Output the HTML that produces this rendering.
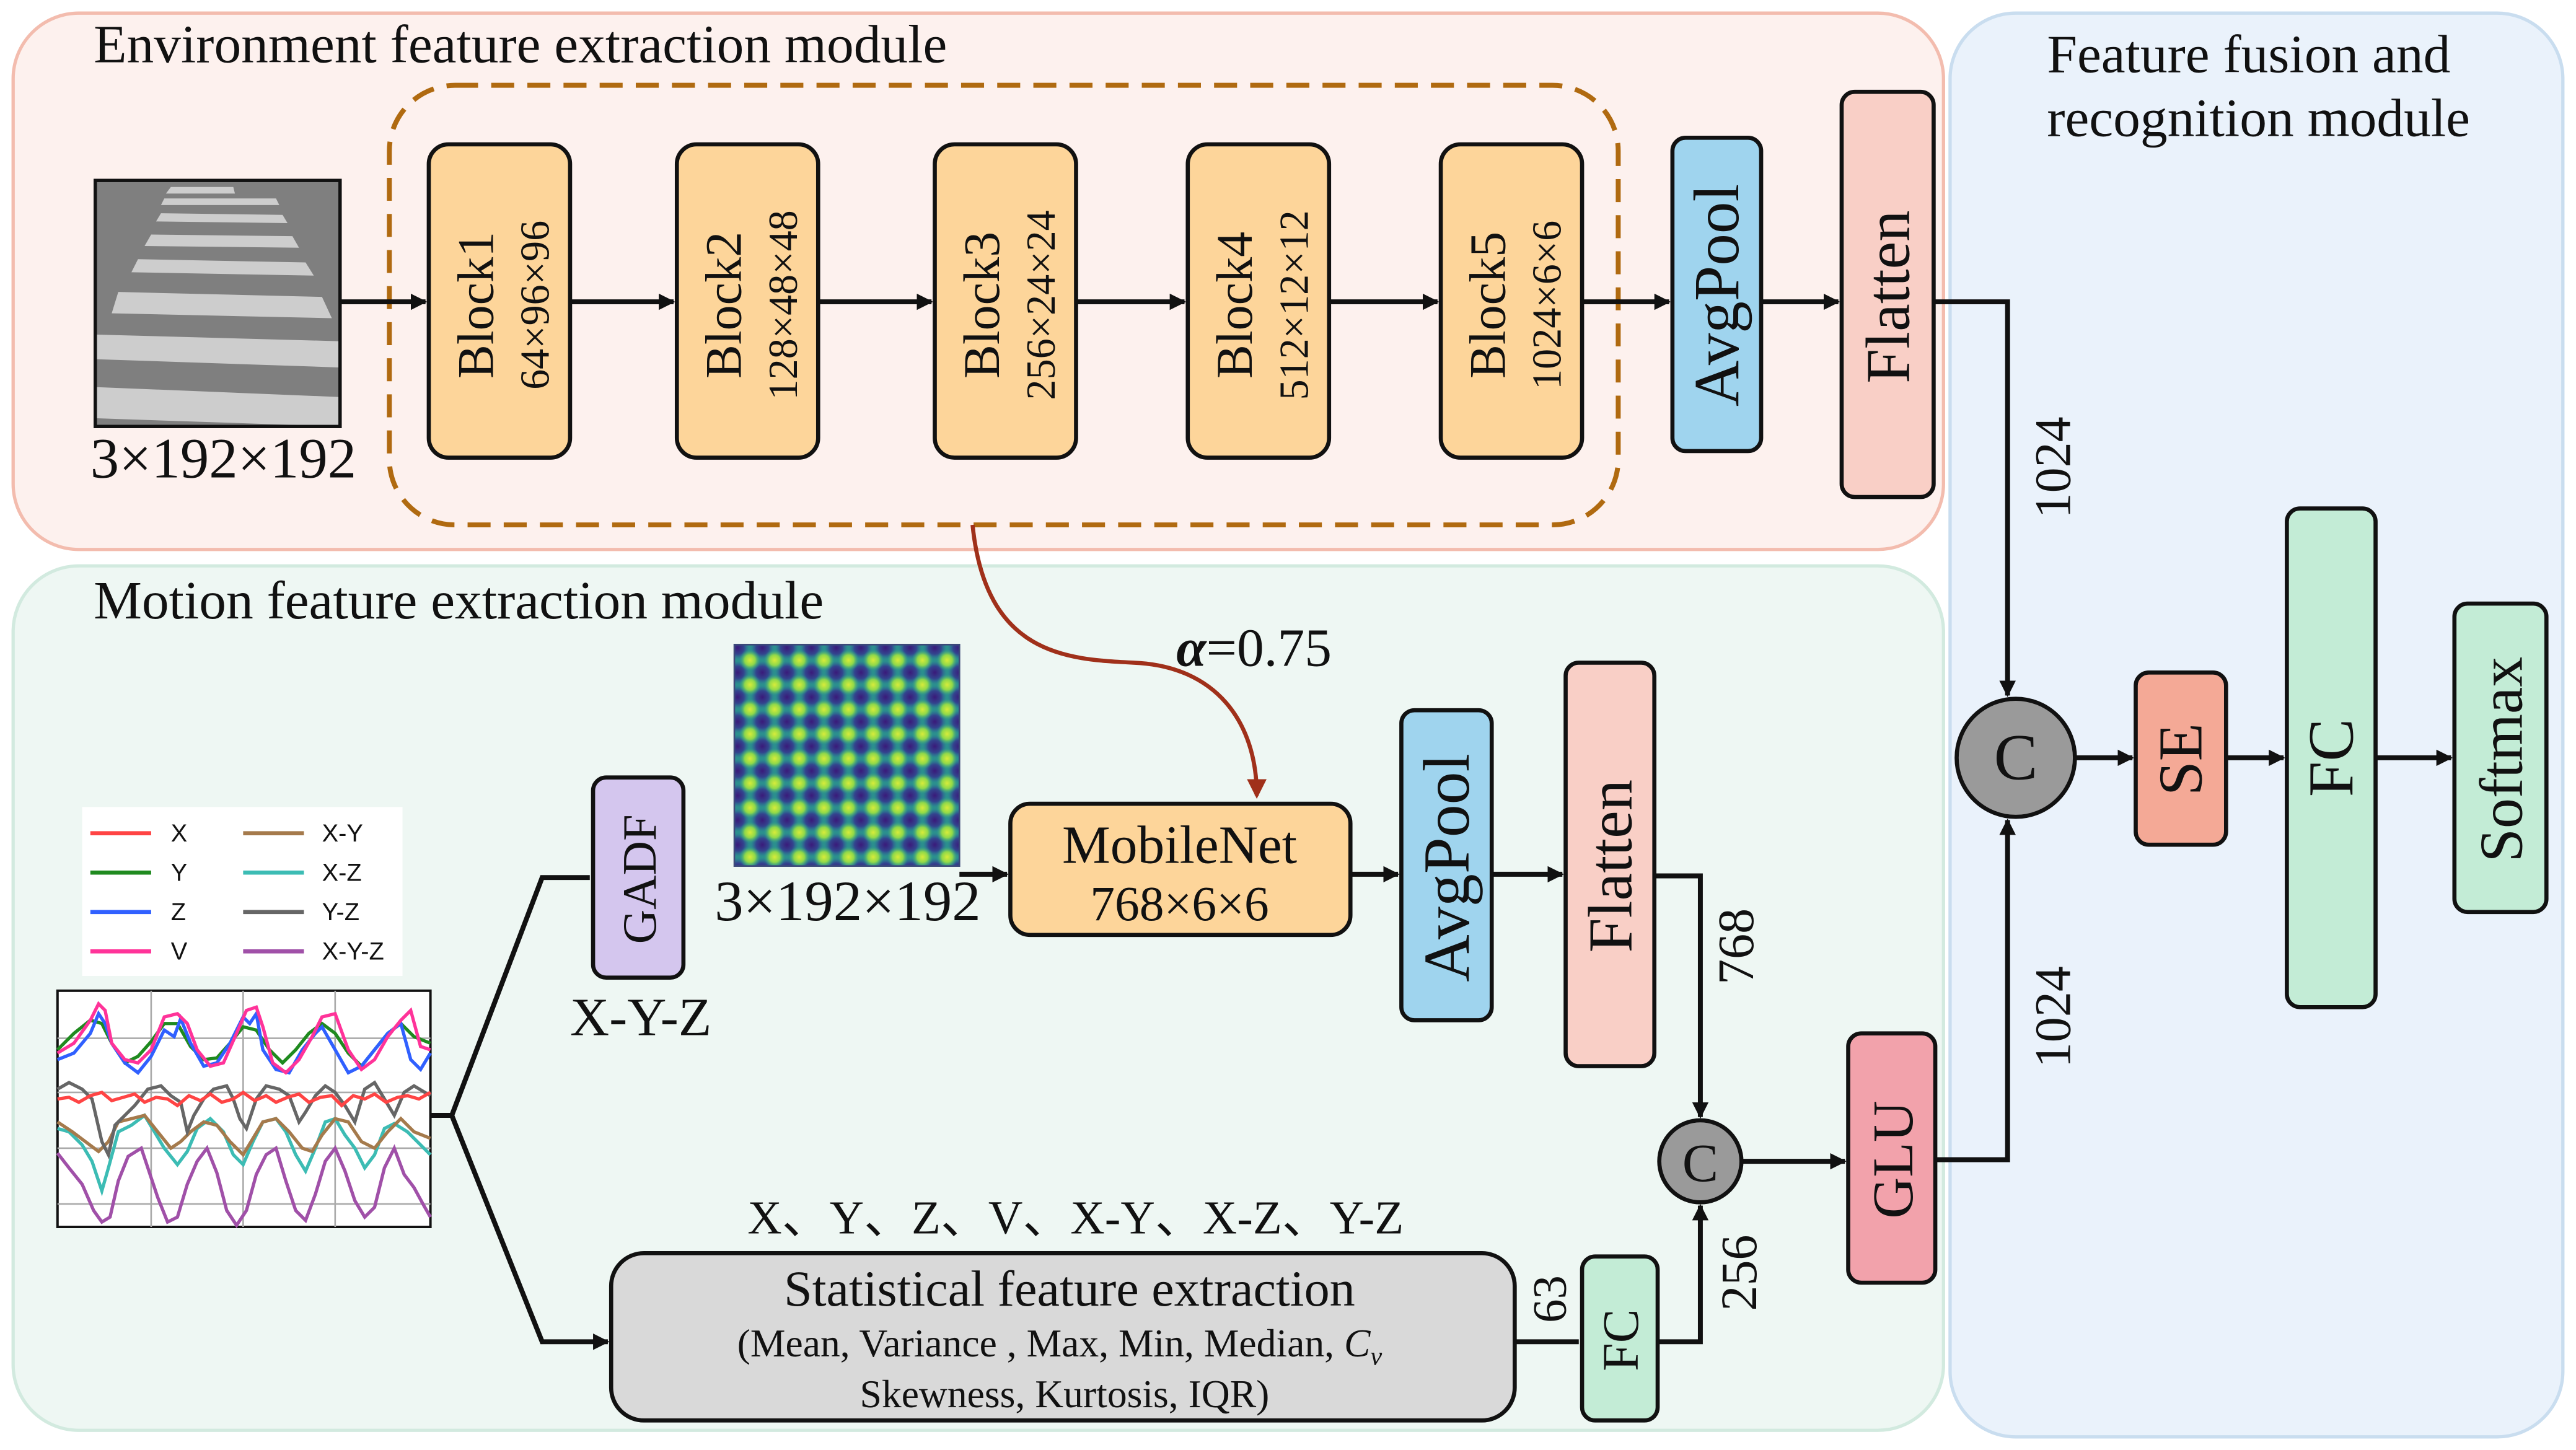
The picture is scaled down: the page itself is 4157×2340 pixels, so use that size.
<!DOCTYPE html>
<html><head><meta charset="utf-8">
<style>
html,body{margin:0;padding:0;background:#fff;}
svg{display:block;}
text{font-family:"Liberation Serif",serif;fill:#111;}
.s{font-family:"Liberation Sans",sans-serif;}
</style></head>
<body>
<svg width="4157" height="2340" viewBox="0 0 1568 884" preserveAspectRatio="none" xmlns="http://www.w3.org/2000/svg">
<defs>
<marker id="ar" markerWidth="10" markerHeight="10" refX="9" refY="5" orient="auto" markerUnits="userSpaceOnUse"><path d="M0,0 L10,5 L0,10 z" fill="#111"/></marker>
<marker id="ar2" markerWidth="12" markerHeight="12" refX="10" refY="6" orient="auto" markerUnits="userSpaceOnUse"><path d="M0,0 L12,6 L0,12 z" fill="#a0301a"/></marker>
<radialGradient id="yb"><stop offset="0" stop-color="#d8ec3a"/><stop offset="0.5" stop-color="#8fd84a"/><stop offset="1" stop-color="#2fa08a" stop-opacity="0"/></radialGradient>
<radialGradient id="db"><stop offset="0" stop-color="#3a1a7a"/><stop offset="0.55" stop-color="#33448e"/><stop offset="1" stop-color="#2c6a96" stop-opacity="0"/></radialGradient>
<pattern id="hm" x="449" y="395" width="15" height="15" patternUnits="userSpaceOnUse">
<rect width="15" height="15" fill="#2b8f8e"/>
<circle cx="0" cy="0" r="7" fill="url(#db)"/><circle cx="15" cy="0" r="7" fill="url(#db)"/>
<circle cx="0" cy="15" r="7" fill="url(#db)"/><circle cx="15" cy="15" r="7" fill="url(#db)"/>
<circle cx="7.5" cy="7.5" r="6.5" fill="url(#yb)"/>
</pattern>
</defs>

<!-- module backgrounds -->
<rect x="8" y="8" width="1175" height="327" rx="40" fill="#fdf1ee" stroke="#f3bcae" stroke-width="2"/>
<rect x="8" y="345" width="1175" height="527" rx="40" fill="#eef7f3" stroke="#d2eadf" stroke-width="2"/>
<rect x="1187" y="8" width="373" height="868" rx="40" fill="#eaf2fb" stroke="#c9ddef" stroke-width="2"/>

<text x="57" y="38" font-size="33">Environment feature extraction module</text>
<text x="57" y="377" font-size="33">Motion feature extraction module</text>
<text x="1246" y="44" font-size="33">Feature fusion and</text>
<text x="1246" y="83" font-size="33">recognition module</text>

<!-- crosswalk image -->
<rect x="58" y="110" width="149" height="150" fill="#7f7f7f" stroke="#111" stroke-width="2"/>
<g fill="#cdcdcd">
<polygon points="190,114 228,114 229,118 187,118" transform="translate(-86,0)"/>
<polygon points="100,121 168,121 170,125 98,125"/>
<polygon points="98,130 172,131 175,136 95,135"/>
<polygon points="92,143 178,144 182,151 88,150"/>
<polygon points="84,158 186,160 191,168 80,166"/>
<polygon points="72,178 196,181 202,194 68,191"/>
<polygon points="59,204 206,208 206,224 59,219"/>
<polygon points="59,236 206,242 206,260 59,255"/>
</g>
<rect x="58" y="110" width="149" height="150" fill="none" stroke="#111" stroke-width="2"/>
<text x="55" y="291" font-size="35">3×192×192</text>

<rect x="237" y="52" width="748" height="268" rx="40" fill="none" stroke="#b06a10" stroke-width="3" stroke-dasharray="14,8"/>

<g stroke="#111" stroke-width="3" fill="none">
<line x1="207" y1="184" x2="259" y2="184" marker-end="url(#ar)"/>
<line x1="347" y1="184" x2="410" y2="184" marker-end="url(#ar)"/>
<line x1="498" y1="184" x2="567" y2="184" marker-end="url(#ar)"/>
<line x1="655" y1="184" x2="721" y2="184" marker-end="url(#ar)"/>
<line x1="809" y1="184" x2="875" y2="184" marker-end="url(#ar)"/>
<line x1="963" y1="184" x2="1016" y2="184" marker-end="url(#ar)"/>
<line x1="1072" y1="184" x2="1119" y2="184" marker-end="url(#ar)"/>
<polyline points="1177,184 1222,184 1222,424" marker-end="url(#ar)"/>
<line x1="1263" y1="462" x2="1298" y2="462" marker-end="url(#ar)"/>
<line x1="1355" y1="462" x2="1390" y2="462" marker-end="url(#ar)"/>
<line x1="1446" y1="462" x2="1492" y2="462" marker-end="url(#ar)"/>
<polyline points="262,680 275,680 330,535 359,535"/>
<polyline points="275,680 330,818 370,818" marker-end="url(#ar)"/>
<line x1="584" y1="533" x2="613" y2="533" marker-end="url(#ar)"/>
<line x1="822" y1="533" x2="851" y2="533" marker-end="url(#ar)"/>
<line x1="908" y1="533" x2="951" y2="533" marker-end="url(#ar)"/>
<polyline points="1007,534 1035,534 1035,681" marker-end="url(#ar)"/>
<line x1="922" y1="818" x2="961" y2="818"/>
<polyline points="1009,818 1035,818 1035,735" marker-end="url(#ar)"/>
<line x1="1060" y1="708" x2="1123" y2="708" marker-end="url(#ar)"/>
<polyline points="1178,707 1222,707 1222,500" marker-end="url(#ar)"/>
</g>

<!-- blocks -->
<g stroke="#111" stroke-width="2.5" fill="#fdd59a">
<rect x="261" y="88" width="86" height="191" rx="12"/>
<rect x="412" y="88" width="86" height="191" rx="12"/>
<rect x="569" y="88" width="86" height="191" rx="12"/>
<rect x="723" y="88" width="86" height="191" rx="12"/>
<rect x="877" y="88" width="86" height="191" rx="12"/>
<rect x="615" y="490" width="207" height="80" rx="12"/>
</g>
<g font-size="31" text-anchor="middle">
<text transform="translate(300,186) rotate(-90)">Block1</text>
<text transform="translate(451,186) rotate(-90)">Block2</text>
<text transform="translate(608,186) rotate(-90)">Block3</text>
<text transform="translate(762,186) rotate(-90)">Block4</text>
<text transform="translate(916,186) rotate(-90)">Block5</text>
</g>
<g font-size="25" text-anchor="middle">
<text transform="translate(334,186) rotate(-90)">64×96×96</text>
<text transform="translate(485,186) rotate(-90)">128×48×48</text>
<text transform="translate(642,186) rotate(-90)">256×24×24</text>
<text transform="translate(796,186) rotate(-90)">512×12×12</text>
<text transform="translate(950,186) rotate(-90)">1024×6×6</text>
</g>
<text x="718" y="526" font-size="33" text-anchor="middle">MobileNet</text>
<text x="718" y="561" font-size="30" text-anchor="middle">768×6×6</text>

<g stroke="#111" stroke-width="2.5">
<rect x="1018" y="84" width="54" height="191" rx="8" fill="#9fd4ee"/>
<rect x="1121" y="56" width="56" height="247" rx="8" fill="#f9cfc6"/>
<rect x="853" y="433" width="55" height="189" rx="8" fill="#9fd4ee"/>
<rect x="953" y="404" width="54" height="246" rx="8" fill="#f9cfc6"/>
<rect x="361" y="474" width="55" height="122" rx="8" fill="#d4c6ee"/>
<rect x="963" y="766" width="46" height="100" rx="8" fill="#c3ecd6"/>
<rect x="1125" y="630" width="53" height="152" rx="8" fill="#f2a2ab"/>
<rect x="1300" y="410" width="55" height="105" rx="8" fill="#f4a996"/>
<rect x="1392" y="310" width="54" height="304" rx="8" fill="#c3ecd6"/>
<rect x="1494" y="368" width="56" height="188" rx="8" fill="#c3ecd6"/>
<rect x="372" y="764" width="550" height="102" rx="20" fill="#d9d9d9"/>
<circle cx="1227" cy="462" r="36" fill="#9a9a9a"/>
<circle cx="1035" cy="708" r="25" fill="#9a9a9a"/>
</g>
<g text-anchor="middle">
<text transform="translate(1058,180) rotate(-90)" font-size="39">AvgPool</text>
<text transform="translate(1162,181) rotate(-90)" font-size="38">Flatten</text>
<text transform="translate(894,529) rotate(-90)" font-size="40">AvgPool</text>
<text transform="translate(993,528) rotate(-90)" font-size="38">Flatten</text>
<text transform="translate(1164,707) rotate(-90)" font-size="35">GLU</text>
<text transform="translate(1340,463) rotate(-90)" font-size="38">SE</text>
<text transform="translate(1432,462) rotate(-90)" font-size="39">FC</text>
<text transform="translate(1535,463) rotate(-90)" font-size="37">Softmax</text>
<text transform="translate(997,817) rotate(-90)" font-size="31">FC</text>
<text transform="translate(399,536) rotate(-90)" font-size="29">GADF</text>
</g>
<text x="1227" y="475" font-size="40" text-anchor="middle">C</text>
<text x="1035" y="720" font-size="33" text-anchor="middle">C</text>

<g font-size="31" text-anchor="middle">
<text transform="translate(1260,285) rotate(-90)">1024</text>
<text transform="translate(1260,620) rotate(-90)">1024</text>
<text transform="translate(1067,577) rotate(-90)">768</text>
<text transform="translate(1069,776) rotate(-90)">256</text>
<text transform="translate(953,792) rotate(-90)" font-size="29">63</text>
</g>

<!-- alpha curve -->
<path d="M592,320 C600,400 650,402 690,404 C740,406 765,440 765,485" fill="none" stroke="#a0301a" stroke-width="2.5" marker-end="url(#ar2)"/>
<text x="716" y="406" font-size="33"><tspan font-style="italic" font-weight="bold">α</tspan>=0.75</text>

<!-- heatmap -->
<rect x="447" y="393" width="137" height="135" fill="url(#hm)" stroke="#3c4a7a" stroke-width="1"/>
<text x="435" y="561" font-size="35">3×192×192</text>
<text x="347" y="631" font-size="33">X-Y-Z</text>

<!-- legend -->
<rect x="50" y="492" width="195" height="103" fill="#fff"/>
<g stroke-width="2.5">
<line x1="55" y1="508" x2="92" y2="508" stroke="#ff4444"/>
<line x1="55" y1="532" x2="92" y2="532" stroke="#1f8a1f"/>
<line x1="55" y1="556" x2="92" y2="556" stroke="#3060ff"/>
<line x1="55" y1="580" x2="92" y2="580" stroke="#ff3399"/>
<line x1="148" y1="508" x2="185" y2="508" stroke="#a57a4c"/>
<line x1="148" y1="532" x2="185" y2="532" stroke="#3cbcb4"/>
<line x1="148" y1="556" x2="185" y2="556" stroke="#666"/>
<line x1="148" y1="580" x2="185" y2="580" stroke="#a050a8"/>
</g>
<g font-size="15">
<text class="s" x="104" y="513">X</text><text class="s" x="104" y="537">Y</text>
<text class="s" x="104" y="561">Z</text><text class="s" x="104" y="585">V</text>
<text class="s" x="196" y="513">X-Y</text><text class="s" x="196" y="537">X-Z</text>
<text class="s" x="196" y="561">Y-Z</text><text class="s" x="196" y="585">X-Y-Z</text>
</g>

<!-- chart -->
<rect x="35" y="604" width="227" height="144" fill="#fff" stroke="#111" stroke-width="1.5"/>
<g stroke="#aaa" stroke-width="1">
<line x1="92" y1="604" x2="92" y2="748"/><line x1="148" y1="604" x2="148" y2="748"/><line x1="204" y1="604" x2="204" y2="748"/>
<line x1="35" y1="633" x2="262" y2="633"/><line x1="35" y1="666" x2="262" y2="666"/><line x1="35" y1="700" x2="262" y2="700"/><line x1="35" y1="734" x2="262" y2="734"/>
</g>
<g fill="none" stroke-width="2">
<polyline stroke="#a050a8" points="35,703 42,712 50,722 57,738 62,745 67,742 72,720 78,705 86,700 90,712 96,730 102,745 108,742 114,722 120,708 126,700 132,715 138,738 144,747 150,738 156,716 162,704 168,700 174,720 180,738 186,744 192,728 198,708 204,700 210,714 216,732 222,742 228,736 234,712 240,700 246,716 252,724 258,735 262,742"/>
<polyline stroke="#3cbcb4" points="35,688 42,690 50,698 56,708 62,726 66,712 72,690 80,686 88,680 94,690 100,700 108,710 114,702 120,688 128,682 136,690 142,704 148,710 154,696 160,684 168,682 174,690 180,704 186,714 192,700 198,684 204,682 210,692 216,700 222,712 228,704 234,688 240,685 248,690 256,698 262,704"/>
<polyline stroke="#a57a4c" points="35,684 44,690 52,696 60,702 66,696 72,684 80,682 88,680 96,690 104,700 110,696 116,690 124,684 132,686 140,696 148,704 154,694 160,684 168,682 176,690 184,700 190,702 196,692 204,682 212,684 220,696 228,700 236,690 244,682 252,690 262,694"/>
<polyline stroke="#666" points="35,664 42,660 50,664 56,670 62,696 66,704 70,686 76,680 82,674 90,664 98,662 104,668 110,672 114,690 118,680 124,670 130,664 138,662 142,670 146,682 150,688 156,670 162,662 170,664 176,668 182,684 186,678 192,668 198,662 204,666 210,674 216,684 222,664 228,660 234,670 240,680 246,666 252,662 262,668"/>
<polyline stroke="#ff4444" points="35,670 42,669 48,672 55,668 62,666 68,671 75,669 82,667 88,672 95,669 102,670 108,674 115,668 122,671 128,667 135,672 142,670 148,666 155,671 162,668 168,672 175,669 182,667 188,672 195,669 202,668 208,674 215,668 222,670 228,667 235,672 242,669 248,668 255,670 262,666"/>
<polyline stroke="#1f8a1f" points="35,640 45,630 55,622 62,624 68,636 76,648 84,644 92,635 100,624 108,624 116,638 124,646 132,645 140,636 148,626 156,628 164,640 172,648 180,640 188,630 196,624 204,630 212,642 220,650 228,640 236,630 244,624 252,632 262,636"/>
<polyline stroke="#3060ff" points="35,646 45,642 55,630 60,618 64,624 68,636 76,648 84,654 92,644 100,628 106,632 110,621 116,636 124,650 132,648 140,636 148,620 152,624 156,618 160,640 168,652 176,654 184,640 192,630 196,626 204,640 212,654 220,650 228,640 236,630 244,624 250,646 256,652 262,642"/>
<polyline stroke="#ff3399" points="35,642 45,636 55,622 60,612 64,616 68,636 76,646 84,648 92,640 100,620 108,618 114,624 120,640 128,650 136,648 144,630 150,616 156,614 160,626 166,648 174,654 182,646 190,632 196,620 204,618 212,640 220,652 228,646 236,632 244,622 250,616 256,638 262,640"/>
</g>

<!-- stats -->
<text x="455" y="752" font-size="29">X、Y、Z、V、X-Y、X-Z、Y-Z</text>
<text x="651" y="796" font-size="31" text-anchor="middle">Statistical feature extraction</text>
<text x="645" y="827" font-size="24" text-anchor="middle">(Mean, Variance , Max, Min, Median, <tspan font-style="italic">C</tspan><tspan font-style="italic" font-size="16" dy="5">v</tspan></text>
<text x="648" y="858" font-size="24" text-anchor="middle">Skewness, Kurtosis, IQR)</text>
</svg>
</body></html>
